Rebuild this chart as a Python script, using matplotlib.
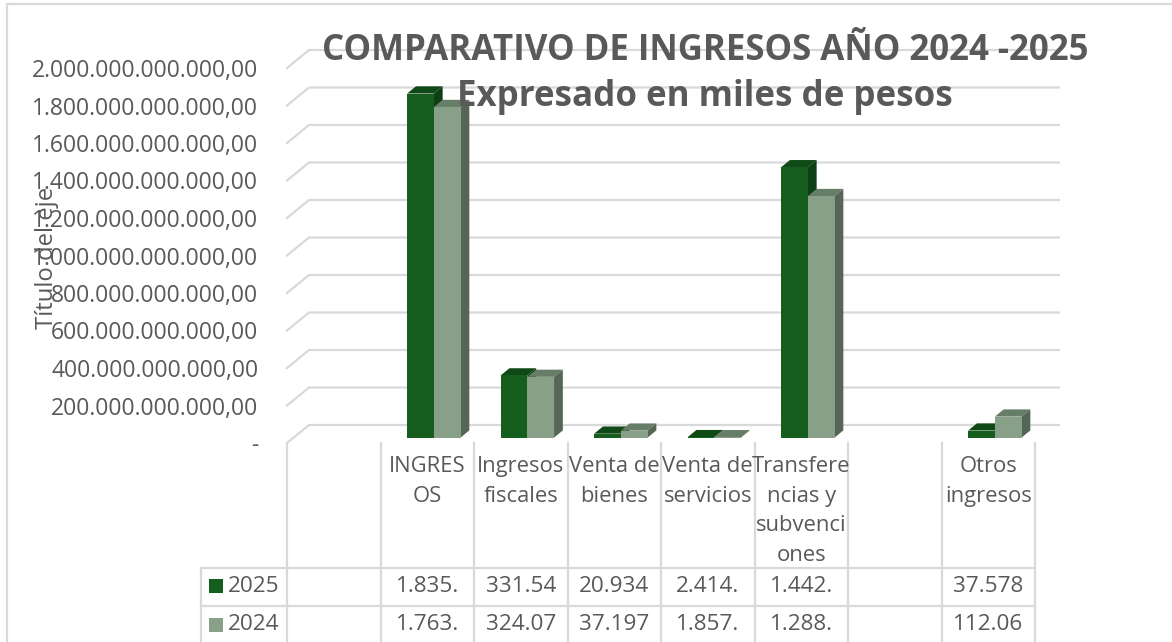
import numpy as np
import matplotlib
matplotlib.use("Agg")
import matplotlib.pyplot as plt
import matplotlib.ticker as ticker
from matplotlib.transforms import blended_transform_factory

#Data
categories = [[], ["INGRES", "OS"], ["Ingresos", "fiscales"], ["Venta de", "bienes"], ["Venta de", "servicios"],
              ["Transfere", "ncias y", "subvenci", "ones"], [], ["Otros", "ingresos"]]
values_2025 = [0, 1835e9, 331.54e9, 20.934e9, 2.414e9, 1442e9, 0, 37.578e9]
values_2024 = [0, 1763e9, 324.07e9, 37.197e9, 1.857e9, 1288e9, 0, 112.06e9]
table_2025 = ["", "1.835.", "331.54", "20.934", "2.414.", "1.442.", "", "37.578"]
table_2024 = ["", "1.763.", "324.07", "37.197", "1.857.", "1.288.", "", "112.06"]
ticks = np.arange(0, 2000e9 + 1, 200e9)

W, H = 1172, 642
GRAY = "#595959"
LINE = "#d9d9d9"
plt.rcParams["font.family"] = ["Open Sans", "DejaVu Sans"]

fig = plt.figure(figsize=(W / 100, H / 100), dpi=100)
ax = fig.add_axes([287 / W, (H - 443) / H, 748 / W, 375 / H])
ax.set_xlim(0, 8)
ax.set_ylim(0, 2000e9)
for s in ax.spines.values():
    s.set_visible(False)
ax.patch.set_visible(False)
ax.set_xticks([])
ax.set_yticks(ticks)

def tick_text(v, pos):
    if v == 0:
        return "-"
    return f"{v:,.2f}".replace(",", "_").replace(".", ",").replace("_", ".")

ax.yaxis.set_major_formatter(ticker.FuncFormatter(tick_text))
ax.tick_params(axis="y", length=0, pad=20.7, labelsize=16.5, labelcolor=GRAY)

#Depth of the 3D box, in data units
DX = 22 / (748 / 8)
DY = 18 / 375 * 2000e9

for v in ticks:
    ax.plot([0, DX, 8 + DX + 0.02], [v, v + DY, v + DY], color=LINE, lw=1.6, clip_on=False, zorder=1,
            solid_joinstyle="miter")

def draw_bar(x, w, v, front, side, top, z):
    d0, d1 = 0.3, 0.7
    x0 = x + d0 * DX
    y0 = d0 * DY
    ddx = (d1 - d0) * DX
    ddy = (d1 - d0) * DY
    ax.fill([x0, x0 + ddx, x0 + w + ddx, x0 + w], [y0 + v, y0 + v + ddy, y0 + v + ddy, y0 + v],
            color=top, lw=0, clip_on=False, zorder=z)
    ax.fill([x0 + w, x0 + w + ddx, x0 + w + ddx, x0 + w], [y0, y0 + ddy, y0 + v + ddy, y0 + v],
            color=side, lw=0, clip_on=False, zorder=z)
    ax.bar(x0, v, w, bottom=y0, align="edge", color=front, lw=0, clip_on=False, zorder=z)

BAR = 26.7 / (748 / 8)
for i in range(len(categories)):
    if not categories[i]:
        continue
    c = i + 0.5
    draw_bar(c - BAR, BAR, values_2025[i], "#155e1e", "#0c3f13", "#0f4a16", 3)
    draw_bar(c, BAR, values_2024[i], "#87a087", "#566656", "#667d67", 4)

#Data table under the plot, x in category units, y in figure pixels
def fy(py):
    return 1 - py / H

tr = blended_transform_factory(ax.transData, fig.transFigure)
figline = dict(color=LINE, lw=1.6, clip_on=False, zorder=2)
for i in range(9):
    ax.plot([i, i], [fy(443), fy(642)], transform=tr, **figline)
for py in [567.7, 606]:
    fig.add_artist(plt.Line2D([200.5 / W, 1035 / W], [fy(py), fy(py)], color=LINE, lw=1.6))
fig.add_artist(plt.Line2D([200.5 / W, 200.5 / W], [fy(567.7), fy(642)], color=LINE, lw=1.6))

for i, lines in enumerate(categories):
    for j, line in enumerate(lines):
        ax.text(i + 0.5, fy(466.5 + j * 29.7), line, transform=tr, ha="center", va="center",
                fontsize=15.8, color=GRAY, zorder=6)
    ax.text(i + 0.5, fy(587), table_2025[i], transform=tr, ha="center", va="center",
            fontsize=16.2, color=GRAY, zorder=6)
    ax.text(i + 0.5, fy(624), table_2024[i], transform=tr, ha="center", va="center",
            fontsize=16.2, color=GRAY, zorder=6)

for name, py, col in [("2025", 586, "#155e1e"), ("2024", 625, "#87a087")]:
    fig.patches.append(plt.Rectangle((209 / W, fy(py + 7)), 14 / W, 14 / H, transform=fig.transFigure,
                                     color=col, lw=0))
    fig.text(228 / W, fy(587 if name == "2025" else 624), name, ha="left", va="center",
             fontsize=16.2, color=GRAY)

#Chart frame, cut off at the bottom and on the right
fig.add_artist(plt.Line2D([7 / W, 7 / W, 1], [0, fy(4), fy(4)], color=LINE, lw=1.6))

fig.text(705 / W, fy(51), "COMPARATIVO DE INGRESOS AÑO 2024 -2025", ha="center", va="center",
         fontsize=25.1, fontweight="bold", color=GRAY, zorder=10)
fig.text(705 / W, fy(97), "Expresado en miles de pesos", ha="center", va="center",
         fontsize=25.1, fontweight="bold", color=GRAY, zorder=10)
fig.text(47 / W, fy(258), "Título del eje", rotation=90, ha="center", va="center",
         fontsize=17.2, color=GRAY, zorder=10)

fig.savefig("out.png", dpi=100)
